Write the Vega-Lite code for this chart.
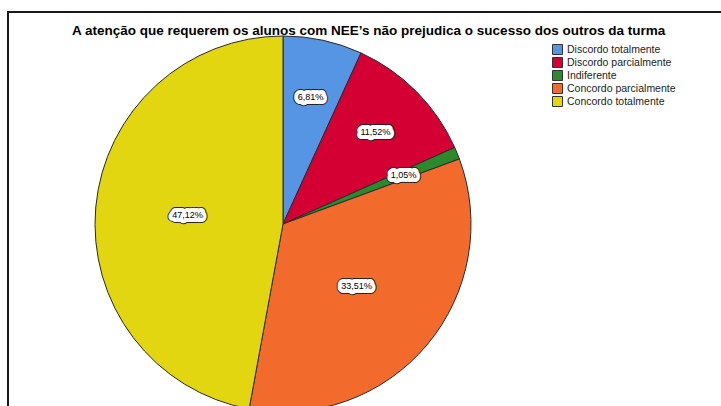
{
  "$schema": "https://vega.github.io/schema/vega-lite/v6.json",
  "autosize": "none",
  "width": 720,
  "height": 400,
  "padding": {"left": 8, "top": 12, "right": -7, "bottom": -6},
  "background": "white",
  "config": {
    "view": {"stroke": "#1a1a1a", "strokeWidth": 2},
    "font": "Liberation Sans"
  },
  "title": {
    "text": "A atenção que requerem os alunos com NEE’s não prejudica o sucesso dos outros da turma",
    "font": "Liberation Sans",
    "fontSize": 13.5,
    "fontWeight": "bold",
    "color": "#000000",
    "anchor": "start",
    "baseline": "alphabetic",
    "offset": -36,
    "dx": 64
  },
  "data": {
    "values": [
      {"cat": "Discordo totalmente", "pct": 6.81, "idx": 1, "label": "6,81%"},
      {"cat": "Discordo parcialmente", "pct": 11.52, "idx": 2, "label": "11,52%"},
      {"cat": "Indiferente", "pct": 1.05, "idx": 3, "label": "1,05%"},
      {"cat": "Concordo parcialmente", "pct": 33.51, "idx": 4, "label": "33,51%"},
      {"cat": "Concordo totalmente", "pct": 47.12, "idx": 5, "label": "47,12%"}
    ]
  },
  "encoding": {
    "theta": {"field": "pct", "type": "quantitative", "stack": true},
    "order": {"field": "idx", "type": "quantitative"},
    "x": {"value": 275},
    "y": {"value": 212}
  },
  "layer": [
    {
      "mark": {"type": "arc", "outerRadius": 188, "stroke": "#2a2a2a", "strokeWidth": 1, "opacity": 1},
      "encoding": {
        "color": {
          "field": "cat",
          "type": "nominal",
          "sort": null,
          "scale": {
            "domain": ["Discordo totalmente", "Discordo parcialmente", "Indiferente", "Concordo parcialmente", "Concordo totalmente"],
            "range": ["#5595E3", "#D40033", "#2C8A2C", "#F36A2D", "#E1D60F"]
          },
          "legend": {
            "title": null,
            "orient": "none",
            "legendX": 544,
            "legendY": 32,
            "symbolType": "square",
            "symbolSize": 100,
            "symbolStrokeColor": "#333333",
            "symbolStrokeWidth": 1,
            "symbolOpacity": 1,
            "labelFont": "Liberation Sans",
            "labelFontSize": 10.5,
            "labelColor": "#222222",
            "labelOffset": 4,
            "rowPadding": -2
          }
        }
      }
    },
    {
      "mark": {"type": "text", "font": "Liberation Sans", "fontSize": 9, "fill": "#222222", "stroke": "#222222", "strokeWidth": 10, "strokeJoin": "round"},
      "encoding": {
        "text": {"field": "label"},
        "radius": {"field": "pct", "type": "quantitative", "scale": {"type": "linear", "domain": [11.6, 33], "range": [130, 96], "clamp": true, "zero": false}}
      }
    },
    {
      "mark": {"type": "text", "font": "Liberation Sans", "fontSize": 9, "fill": "white", "stroke": "white", "strokeWidth": 8, "strokeJoin": "round"},
      "encoding": {
        "text": {"field": "label"},
        "radius": {"field": "pct", "type": "quantitative", "scale": {"type": "linear", "domain": [11.6, 33], "range": [130, 96], "clamp": true, "zero": false}}
      }
    },
    {
      "mark": {"type": "text", "font": "Liberation Sans", "fontSize": 9, "fill": "#000000"},
      "encoding": {
        "text": {"field": "label"},
        "radius": {"field": "pct", "type": "quantitative", "scale": {"type": "linear", "domain": [11.6, 33], "range": [130, 96], "clamp": true, "zero": false}}
      }
    }
  ]
}
